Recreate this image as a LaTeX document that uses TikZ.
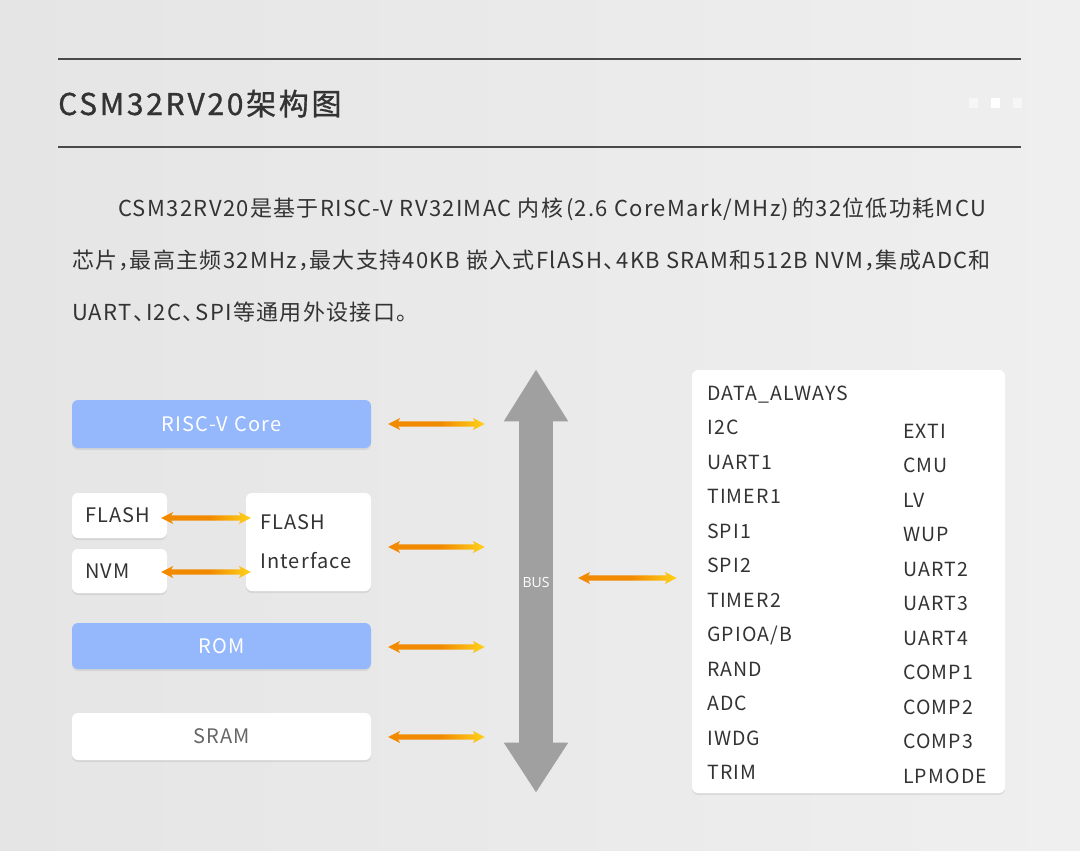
\documentclass[tikz,border=0pt]{standalone}
\usepackage{fontspec}
\setmainfont{Noto Sans CJK SC}
\newfontfamily\spacedfont[LetterSpace=6]{Noto Sans CJK SC}
\newfontfamily\parafont[LetterSpace=6]{Noto Sans CJK SC}
\newfontfamily\titlefont[LetterSpace=9, FakeBold=1]{Noto Sans CJK SC}
\newfontfamily\busfont{Open Sans}
\usetikzlibrary{calc, positioning, shadows, arrows.meta}
\definecolor{bgleft}{HTML}{E5E5E5}
\definecolor{bgright}{HTML}{EFEFEF}
\definecolor{rulegray}{HTML}{4A4A4A}
\definecolor{txt}{HTML}{333333}
\definecolor{softtxt}{HTML}{666666}
\definecolor{coreblue}{HTML}{94B8FB}
\definecolor{busgray}{HTML}{A0A0A0}
\definecolor{arrorange}{HTML}{F28A00}
\definecolor{arryellow}{HTML}{FFD21A}
\pgfdeclarehorizontalshading{arrshade}{100bp}{color(0bp)=(arrorange); color(25bp)=(arrorange); color(52bp)=(arrorange); color(75bp)=(arryellow); color(100bp)=(arryellow)}
% narrow punctuation for the description
\newcommand{\zhcomma}{，\kern-11pt}
\newcommand{\zhdun}{、\kern-9pt}
% double headed link, from #1 (left tip) to #2 (right tip)
\newcommand{\linkarrow}[2]{%
  \shade[shading=arrshade]
    (#1) -- ($(#1)+(12,-6)$) -- ($(#1)+(10,-2.6)$) -- ($(#2)+(-10,-2.6)$)
    -- ($(#2)+(-12,-6)$) -- (#2) -- ($(#2)+(-12,6)$) -- ($(#2)+(-10,2.6)$)
    -- ($(#1)+(10,2.6)$) -- ($(#1)+(12,6)$) -- cycle;}

\begin{document}
\begin{tikzpicture}[x=1pt, y=-1pt, >=Latex]
  \tikzstyle{box}=[rectangle, rounded corners=6pt, inner sep=0pt,
                   drop shadow={shadow xshift=0pt, shadow yshift=-2pt, opacity=0.07, fill=black}]
  \tikzstyle{bluebox}=[box, fill=coreblue, text=white, minimum width=299pt,
                   font=\spacedfont\fontsize{20}{24}\selectfont]
  \tikzstyle{memwide}=[box, fill=white, text=softtxt, minimum width=299pt,
                   font=\spacedfont\fontsize{20}{24}\selectfont]
  \tikzstyle{memsmall}=[box, fill=white, text=txt, minimum width=95pt,
                   text width=69pt, inner xsep=13pt, align=left,
                   font=\spacedfont\fontsize{20}{24}\selectfont]
  \tikzstyle{periph}=[anchor=base west, inner sep=0pt, text=txt,
                   font=\spacedfont\fontsize{19.5}{24}\selectfont]
  \tikzstyle{para}=[anchor=base west, inner sep=0pt, text=txt,
                   font=\parafont\fontsize{22}{26}\selectfont]

  % page
  \useasboundingbox (0,0) rectangle (1080,851);
  \shade[left color=bgleft, right color=bgright] (0,0) rectangle (1080,851);

  % heading
  \coordinate (ruleAl) at (58,59);
  \coordinate (ruleAr) at (1021,59);
  \coordinate (ruleBl) at (58,147);
  \coordinate (ruleBr) at (1021,147);
  \draw[rulegray, line width=1.4pt] (ruleAl) -- (ruleAr);
  \draw[rulegray, line width=1.4pt] (ruleBl) -- (ruleBr);
  \node[anchor=base west, inner sep=0pt, text=txt,
        font=\titlefont\fontsize{30}{34}\selectfont] (title) at (58,115) {CSM32RV20架构图};
  \fill[white, opacity=0.5] (969,98) rectangle (978,108);
  \fill[white] (991,98) rectangle (1000,108);
  \fill[white, opacity=0.5] (1013,98) rectangle (1022,108);

  % description
  \node[para] (line1) at (118,216) {CSM32RV20是基于RISC-V RV32IMAC 内核\kern3pt(2.6 CoreMark/MHz)\kern3pt的32位低功耗MCU};
  \node[para] (line2) at (72,268) {芯片\zhcomma 最高主频32MHz\zhcomma 最大支持40KB 嵌入式FlASH\zhdun 4KB SRAM和512B NVM\zhcomma 集成ADC和};
  \node[para] (line3) at (72,320) {UART\zhdun I2C\zhdun SPI等通用外设接口。};

  % blocks
  \node[bluebox, minimum height=48pt] (core) at (221.5,424) {RISC-V Core};
  \node[memsmall, minimum height=45pt] (flash) at (119.5,515.5) {FLASH};
  \node[memsmall, minimum height=44pt] (nvm) at (119.5,571) {NVM};
  \node[memsmall, minimum height=98pt, minimum width=125pt, text width=97pt, inner xsep=14pt,
        font=\spacedfont\fontsize{20}{39}\selectfont] (intf) at (308.5,542) {FLASH\\Interface};
  \node[bluebox, minimum height=46pt] (rom) at (221.5,646) {ROM};
  \node[memwide, minimum height=47pt] (sram) at (221.5,736.5) {SRAM};

  % bus
  \node[fill=busgray, minimum width=34pt, minimum height=322pt, inner sep=0pt,
        text=white, font=\busfont\fontsize{14}{16}\selectfont] (bus) at (536,582) {BUS};
  \fill[busgray] ($(bus.north west)+(-15,0.5)$) -- ($(bus.north)+(0,-51)$) -- ($(bus.north east)+(15,0.5)$) -- cycle;
  \fill[busgray] ($(bus.south west)+(-15,-0.5)$) -- ($(bus.south)+(0,49)$) -- ($(bus.south east)+(15,-0.5)$) -- cycle;

  % peripherals
  \node[box, fill=white, minimum width=313pt, minimum height=423pt] (peri) at (848.5,581.5) {};
  \foreach \name [count=\i from 0] in {DATA\_ALWAYS, I2C, UART1, TIMER1, SPI1, SPI2,
                                        TIMER2, GPIOA/B, RAND, ADC, IWDG, TRIM}
    \node[periph] (pl\i) at (707,400+34.5*\i) {\name};
  \foreach \name [count=\i from 0] in {EXTI, CMU, LV, WUP, UART2, UART3,
                                        UART4, COMP1, COMP2, COMP3, LPMODE}
    \node[periph] (pr\i) at (903,438+34.5*\i) {\name};

  % links
  \linkarrow{$(core.east)+(17,0)$}{$(bus.west |- core.east)+(-34,0)$}
  \linkarrow{$(intf.east)+(17,5)$}{$(bus.west |- intf.east)+(-34,5)$}
  \linkarrow{$(rom.east)+(17,1)$}{$(bus.west |- rom.east)+(-34,1)$}
  \linkarrow{$(sram.east)+(17,0.5)$}{$(bus.west |- sram.east)+(-34,0.5)$}
  \linkarrow{$(flash.east)+(-6,2.5)$}{$(intf.west |- flash.east)+(5,2.5)$}
  \linkarrow{$(nvm.east)+(-6,1)$}{$(intf.west |- nvm.east)+(5,1)$}
  \linkarrow{$(bus.east)+(25,-4)$}{$(peri.west |- bus.east)+(-15,-4)$}
\end{tikzpicture}
\end{document}
